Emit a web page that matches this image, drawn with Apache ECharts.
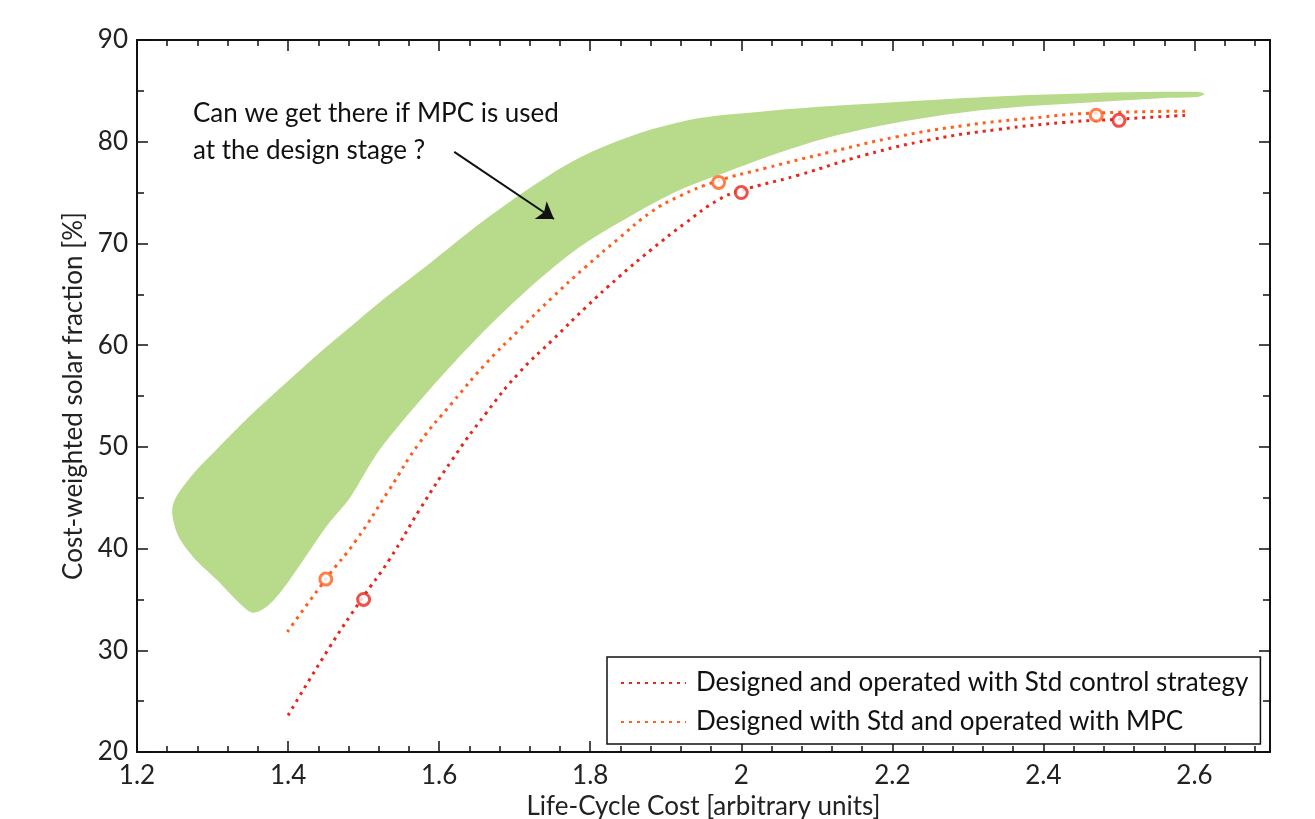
<!DOCTYPE html>
<html>
<head>
<meta charset="utf-8">
<script src="https://cdn.jsdelivr.net/npm/echarts@6/dist/echarts.min.js"></script>
<style>
  html, body { margin: 0; padding: 0; background: #fff; }
  #chart { width: 1315px; height: 819px; }
</style>
</head>
<body>
<div id="chart"></div>
<script>
// outline of the green region (upper edge left->right, then lower edge right->left)
var bandX = [1.2475, 1.274, 1.306, 1.349, 1.393, 1.438, 1.481, 1.521, 1.587, 1.653, 1.719, 1.785, 1.864, 1.943, 2.032, 2.119, 2.207, 2.296, 2.383, 2.471, 2.560, 2.603, 2.613,
             2.603, 2.560, 2.471, 2.383, 2.296, 2.207, 2.119, 2.049, 1.983, 1.917, 1.851, 1.785, 1.719, 1.653, 1.587, 1.521, 1.481, 1.451, 1.415, 1.393, 1.372, 1.353, 1.332, 1.306, 1.274, 1.253];
var bandY = [44.3, 47.3, 49.8, 53.0, 56.0, 59.0, 61.7, 64.2, 68.0, 71.9, 75.4, 78.4, 80.8, 82.3, 83.0, 83.5, 83.9, 84.3, 84.6, 84.8, 84.9, 84.9, 84.7,
             84.4, 84.3, 83.9, 83.5, 82.9, 81.9, 80.5, 78.9, 77.1, 75.2, 72.6, 69.6, 65.6, 60.9, 55.6, 49.7, 44.9, 42.2, 38.3, 36.0, 34.3, 33.7, 34.9, 36.9, 39.2, 41.5];

// Designed and operated with Std control strategy
var stdX = [1.400, 1.455, 1.498, 1.534, 1.574, 1.617, 1.662, 1.706, 1.750, 1.794, 1.838, 1.881, 1.926, 1.970, 2.000, 2.075, 2.164, 2.251, 2.339, 2.428, 2.495, 2.590];
var stdY = [23.6, 30.3, 35.1, 38.9, 43.8, 48.7, 53.3, 57.3, 60.5, 63.7, 66.7, 69.4, 72.0, 74.3, 75.2, 76.7, 78.7, 80.2, 81.2, 81.9, 82.2, 82.6];
var stdMarkX = [1.50, 2.00, 2.50];
var stdMarkY = [35.0, 75.0, 82.1];

// Designed with Std and operated with MPC
var mpcX = [1.399, 1.451, 1.490, 1.534, 1.574, 1.617, 1.662, 1.706, 1.750, 1.794, 1.838, 1.881, 1.917, 1.967, 2.032, 2.119, 2.207, 2.296, 2.383, 2.462, 2.594];
var mpcY = [31.8, 37.1, 40.8, 45.8, 50.4, 54.3, 58.2, 61.5, 64.7, 67.7, 70.5, 73.1, 74.6, 76.1, 77.4, 79.0, 80.5, 81.6, 82.3, 82.8, 83.0];
var mpcMarkX = [1.45, 1.97, 2.47];
var mpcMarkY = [37.0, 76.0, 82.6];

var seriesNames = ['Designed and operated with Std control strategy', 'Designed with Std and operated with MPC'];
var noteText = 'Can we get there if MPC is used\nat the design stage ?';
var arrowFrom = [1.620, 79.0];
var arrowTo = [1.752, 72.4];

function zip(xs, ys) {
  return xs.map(function (x, i) { return [x, ys[i]]; });
}

var FONT = 'Lato';
var FS = 26;
var RED = '#e8261b';
var ORANGE = '#ff5e1c';

var chart = echarts.init(document.getElementById('chart'));

function xAxisDef(pos, interval, len, labels, line) {
  return {
    type: 'value', position: pos, min: 1.2, max: 2.7, interval: interval,
    axisLine: { show: line, lineStyle: { color: '#111', width: 2 } },
    axisTick: { show: true, inside: true, length: len, lineStyle: { color: '#111', width: 1.5 } },
    axisLabel: {
      show: labels, showMaxLabel: false, margin: 11,
      color: '#222', fontSize: FS, fontFamily: FONT
    },
    splitLine: { show: false }
  };
}

var option = {
  backgroundColor: '#fff',
  animation: false,
  grid: { left: 137, right: 45, top: 40, bottom: 67, containLabel: false, outerBoundsMode: 'none' },
  xAxis: [
    Object.assign(xAxisDef('bottom', 0.2, 11, true, true), {
      name: 'Life-Cycle Cost [arbitrary units]',
      nameLocation: 'middle', nameGap: 40,
      nameTextStyle: { fontSize: FS, color: '#222', fontFamily: FONT }
    }),
    xAxisDef('bottom', 0.04, 6, false, false),
    xAxisDef('top', 0.2, 11, false, true),
    xAxisDef('top', 0.04, 6, false, false)
  ],
  yAxis: [
    {
      type: 'value', position: 'left', min: 20, max: 90, interval: 10,
      name: 'Cost-weighted solar fraction [%]',
      nameLocation: 'middle', nameGap: 50,
      nameTextStyle: { fontSize: FS, color: '#222', fontFamily: FONT },
      axisLine: { show: true, lineStyle: { color: '#111', width: 2 } },
      axisTick: { show: true, inside: true, length: 11, lineStyle: { color: '#111', width: 1.5 } },
      minorTick: { show: true, splitNumber: 2, length: 7, lineStyle: { color: '#111', width: 1.5 } },
      axisLabel: { margin: 9, color: '#222', fontSize: FS, fontFamily: FONT },
      splitLine: { show: false }
    },
    {
      type: 'value', position: 'right', min: 20, max: 90, interval: 10,
      axisLine: { show: true, lineStyle: { color: '#111', width: 2 } },
      axisTick: { show: true, inside: true, length: 11, lineStyle: { color: '#111', width: 1.5 } },
      minorTick: { show: true, splitNumber: 2, length: 7, lineStyle: { color: '#111', width: 1.5 } },
      axisLabel: { show: false },
      splitLine: { show: false }
    }
  ],
  legend: {
    orient: 'vertical', left: 607, top: 657,
    data: seriesNames,
    itemWidth: 65, itemHeight: 14, itemGap: 13,
    padding: [13, 12, 9, 13],
    backgroundColor: '#fff', borderColor: '#111', borderWidth: 1.5,
    itemStyle: { opacity: 0 },
    textStyle: { fontSize: FS, lineHeight: 26, color: '#111', fontFamily: FONT, padding: [0, 0, 0, 5] }
  },
  graphic: [
    {
      type: 'text', left: 193, top: 95, z: 10,
      style: { text: noteText, fontSize: FS, lineHeight: 37, fill: '#111', fontFamily: FONT }
    }
  ],
  series: [
    {
      type: 'custom',
      name: 'region',
      silent: true,
      data: zip(bandX, bandY),
      renderItem: function (params, api) {
        if (params.dataIndex !== 0) return null;
        var pts = bandX.map(function (x, i) { return api.coord([x, bandY[i]]); });
        return {
          type: 'polygon',
          shape: { points: pts, smooth: 0.3 },
          style: { fill: '#b7db8a', stroke: null }
        };
      },
      z: 1
    },
    {
      type: 'line', name: seriesNames[0],
      data: zip(stdX, stdY),
      smooth: true, symbol: 'none', showSymbol: false,
      lineStyle: { color: RED, width: 3, type: [3, 5] },
      itemStyle: { color: RED },
      z: 3
    },
    {
      type: 'line', name: seriesNames[1],
      data: zip(mpcX, mpcY),
      smooth: true, symbol: 'none', showSymbol: false,
      lineStyle: { color: ORANGE, width: 3, type: [3, 5] },
      itemStyle: { color: ORANGE },
      z: 3
    },
    {
      type: 'scatter', name: 'std-marks',
      data: zip(stdMarkX, stdMarkY),
      symbol: 'circle', symbolSize: 12,
      itemStyle: { color: '#fff', borderColor: RED, borderWidth: 3 },
      z: 4,
      markLine: {
        silent: true,
        symbol: ['none', 'arrow'], symbolSize: 16,
        label: { show: false },
        lineStyle: { color: '#111', width: 2, type: 'solid' },
        data: [[{ coord: arrowFrom }, { coord: arrowTo }]]
      }
    },
    {
      type: 'scatter', name: 'mpc-marks',
      data: zip(mpcMarkX, mpcMarkY),
      symbol: 'circle', symbolSize: 12,
      itemStyle: { color: '#fff', borderColor: ORANGE, borderWidth: 3 },
      z: 4
    }
  ]
};

chart.setOption(option);
</script>
</body>
</html>
